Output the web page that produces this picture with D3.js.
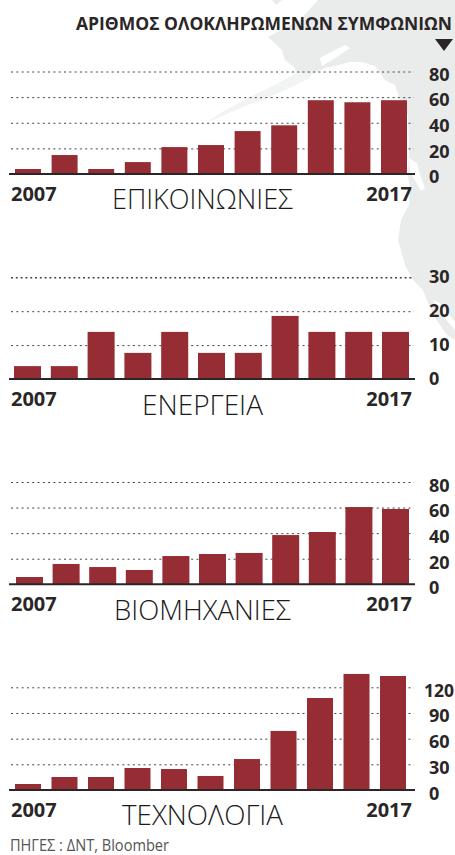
<!DOCTYPE html>
<html><head><meta charset="utf-8">
<style>html,body{margin:0;padding:0;background:#fff}svg{display:block}text{font-family:"Open Sans",sans-serif}</style>
<script src="https://cdn.jsdelivr.net/npm/d3@7"></script></head>
<body><script>
const years = ["2007","2008","2009","2010","2011","2012","2013","2014","2015","2016","2017"];
const commsValues = [3.9,14.8,3.9,9.3,21,22.6,33.5,38,57.6,56,57.6];
const energyValues = [3.8,3.8,13.9,7.7,13.9,7.7,7.7,18.6,13.9,13.9,13.9];
const industryValues = [5.7,15.9,13.5,11.2,22.1,23.7,24.5,38.5,40.9,60.4,58.9];
const techValues = [7,15.2,15.2,25.7,24.5,16.4,36.2,69,107.5,135.6,133.2];
const commsTicks = [0,20,40,60,80];
const energyTicks = [0,10,20,30];
const industryTicks = [0,20,40,60,80];
const techTicks = [0,30,60,90,120];
const sectorNames = ["ΕΠΙΚΟΙΝΩΝΙΕΣ","ΕΝΕΡΓΕΙΑ","ΒΙΟΜΗΧΑΝΙΕΣ","ΤΕΧΝΟΛΟΓΙΑ"];
const headerText = "ΑΡΙΘΜΟΣ ΟΛΟΚΛΗΡΩΜΕΝΩΝ ΣΥΜΦΩΝΙΩΝ";
const sourceText = "ΠΗΓΕΣ : ΔΝΤ, Bloomber";

const landShape = [[318,0],[455,0],[455,340],[447,335],[433,315],[423,290],[413,280],[405,265],[398,240],[401,220],[405,212],[409,205],[410,190],[408,175],[409,150],[408,115],[400,100],[395,85],[385,80],[375,66],[362,62],[350,62],[335,66],[325,68],[312,74],[298,73],[293,66],[285,60],[282,50],[268,37],[300,20]];
const peninsulaShape = [[312,72],[298,72],[275,85],[250,97],[222,112],[205,123],[225,115],[245,106],[262,100],[290,88],[310,78]];
const islandShape = [[272,0],[282,0],[276,5]];
const inletShapes = [
  [[409,158],[417,163],[420,175],[425,188],[421,191],[415,180],[410,172]],
  [[433,300],[440,303],[455,322],[455,330],[442,315]],
  [[320,58],[335,50],[345,45],[350,48],[335,58],[322,66]]
];

const W = 455, H = 855;
const RED = "#962d35", DARK = "#2a2627", LAND = "#eaecec", LAND_FAINT = "#f2f3f3";
const svg = d3.select("body").append("svg").attr("width",W).attr("height",H).attr("viewBox",`0 0 ${W} ${H}`);

const outline = d3.line().curve(d3.curveLinearClosed);
svg.append("path").attr("d",outline(peninsulaShape)).attr("fill",LAND_FAINT);
svg.append("path").attr("d",outline(landShape)).attr("fill",LAND);
svg.append("path").attr("d",outline(islandShape)).attr("fill",LAND);
svg.selectAll("path.inlet").data(inletShapes).join("path").attr("class","inlet").attr("d",d=>outline(d)).attr("fill","#fff");

svg.append("text").attr("x",76).attr("y",30).attr("font-size",17.5).attr("font-weight",700).attr("fill",DARK)
  .attr("textLength",376).attr("lengthAdjust","spacingAndGlyphs").text(headerText);
svg.append("path").attr("d",outline([[435,39],[453,39],[444,51]])).attr("fill",DARK);

const layout = [
  {values:commsValues, ticks:commsTicks, top:80, base:174, topY:71.5, x0:15, x1:407, pad:.29, dy:8.7, title:[112,293,209.3]},
  {values:energyValues, ticks:energyTicks, top:30, base:379, topY:277.3, x0:14, x1:409, pad:.266, dy:5.4, title:[142,263,415]},
  {values:industryValues, ticks:industryTicks, top:80, base:584.3, topY:482, x0:16, x1:409, pad:.262, dy:9.4, title:[114,291,620]},
  {values:techValues, ticks:techTicks, top:120, base:790, topY:687.3, x0:15, x1:406, pad:.288, dy:9, title:[122,283,825]}
];

layout.forEach((p,i)=>{
  const g = svg.append("g");
  const y = d3.scaleLinear().domain([0,p.top]).range([p.base,p.topY]);
  const x = d3.scaleBand().domain(years).range([p.x0,p.x1]).paddingInner(p.pad).paddingOuter(0);

  const axis = g.append("g").attr("transform","translate(414,0)")
    .call(d3.axisRight(y).tickValues(p.ticks).tickSize(0).tickFormat(d3.format("d")));
  axis.select(".domain").remove();
  axis.selectAll("text").attr("x",d=>d>=100?10:15).attr("dy",0).attr("y",p.dy)
    .attr("font-size",d=>d>=100?17.5:18).attr("font-weight",700).attr("font-family",'"Open Sans",sans-serif').attr("fill",DARK);
  axis.selectAll(".tick line").filter(d=>d!==0)
    .attr("x1",-403).attr("x2",0).attr("stroke","#444")
    .attr("stroke-width",d=>(i===1&&d===p.top)?1.6:1).attr("stroke-dasharray",d=>(i===1&&d===p.top)?"2 2.8":"2 3.3");

  g.selectAll("rect").data(p.values).join("rect")
    .attr("x",(d,k)=>x(years[k])).attr("width",x.bandwidth())
    .attr("y",d=>y(d)).attr("height",d=>p.base-y(d)).attr("fill",RED);

  g.append("line").attr("x1",9).attr("x2",415).attr("y1",p.base).attr("y2",p.base)
    .attr("stroke",DARK).attr("stroke-width",2);

  const yrY = p.base+27;
  g.append("text").attr("x",11).attr("y",yrY).attr("font-size",20).attr("font-weight",700).attr("fill",DARK).text(years[0]);
  g.append("text").attr("x",412).attr("y",yrY).attr("text-anchor","end").attr("font-size",20).attr("font-weight",700).attr("fill",DARK).text(years[years.length-1]);

  g.append("text").attr("x",p.title[0]).attr("y",p.title[2]).attr("font-size",28).attr("font-weight",300).attr("fill","#1c1a1b")
    .attr("textLength",p.title[1]-p.title[0]).attr("lengthAdjust","spacingAndGlyphs").text(sectorNames[i]);
});

svg.append("text").attr("x",10).attr("y",850.5).attr("font-size",15.5).attr("font-weight",400).attr("fill","#555")
  .attr("textLength",159).attr("lengthAdjust","spacingAndGlyphs").text(sourceText);
</script></body></html>
